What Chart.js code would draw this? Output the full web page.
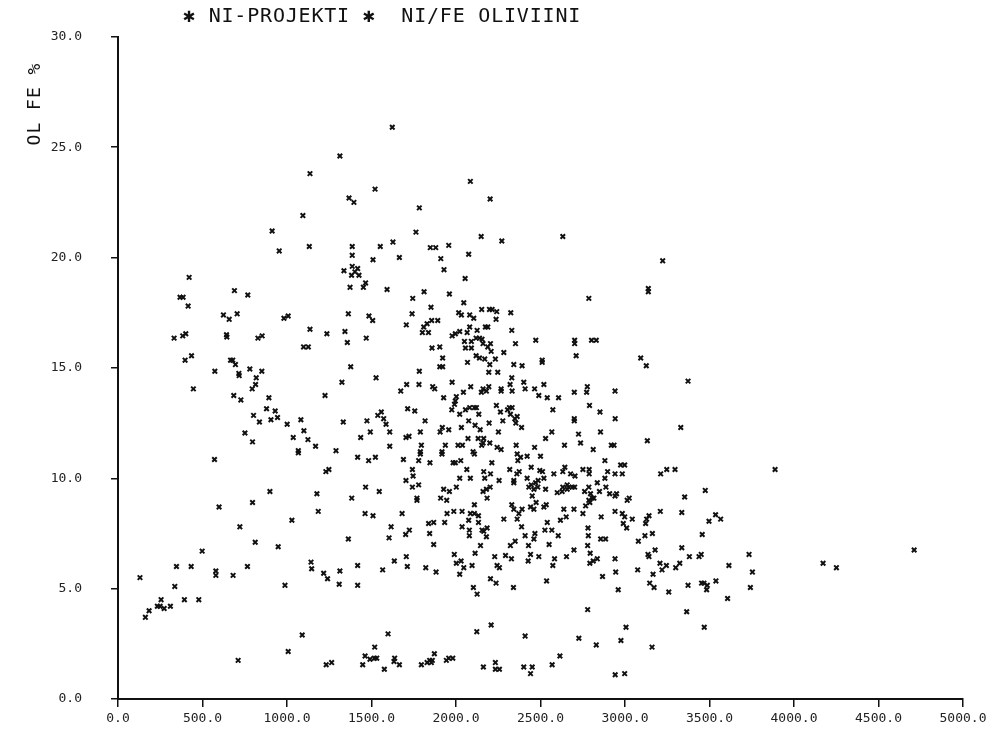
<!DOCTYPE html>
<html>
<head>
<meta charset="utf-8">
<script src="https://cdn.jsdelivr.net/npm/chart.js@4.4.1/dist/chart.umd.min.js"></script>
<style>
html,body{margin:0;padding:0;background:#fff;}
#wrap{width:999px;height:736px;position:relative;}
</style>
</head>
<body>
<div id="wrap"><canvas id="c" width="999" height="736"></canvas></div>
<script>
const chartTitle = "✱ NI-PROJEKTI ✱  NI/FE OLIVIINI";
const yTitle = "OL FE %";
const xTicks = [0,500,1000,1500,2000,2500,3000,3500,4000,4500,5000];
const yTicks = [0,5,10,15,20,25,30];

// Ni (x) vs Fe % in olivine (y)
const groupTopLeft = [[1623,25.9],[1313,24.6],[1136,23.8],[1521,23.1],[1367,22.7],[1396,22.5],[1094,21.9],[912,21.2],[954,20.3],[1132,20.5],[1386,20.5],[1552,20.5],[1627,20.7],[1386,20.1],[1509,19.9],[1665,20.0],[1386,19.6],[1418,19.5],[1337,19.4],[1402,19.35],[1382,19.2],[1426,19.2],[421,19.1],[1465,18.85],[1452,18.65],[1373,18.65],[1592,18.55],[689,18.5],[768,18.3],[367,18.2],[385,18.2],[415,17.8],[624,17.4],[658,17.2],[705,17.45],[982,17.25],[1007,17.35],[1363,17.45],[1485,17.35],[1507,17.15],[1706,16.95],[332,16.35],[383,16.45],[401,16.55],[642,16.5],[644,16.4],[828,16.35],[853,16.45],[1136,16.75],[1236,16.55],[1343,16.65],[1469,16.35],[1357,16.15],[1098,15.95],[1126,15.95]];

const groupTopMid = [[2085,23.45],[2202,22.65],[1783,22.25],[1763,21.15],[2149,20.95],[2271,20.75],[2632,20.95],[1848,20.45],[1880,20.45],[1957,20.55],[2075,20.15],[1910,19.95],[1929,19.45],[2054,19.05],[3223,19.85],[3138,18.6],[3138,18.45],[2786,18.15],[1744,18.15],[1811,18.45],[1961,18.35],[1852,17.75],[2046,17.95],[1740,17.45],[1809,16.85],[1829,17.0],[1856,17.15],[1892,17.15],[2016,17.5],[2032,17.4],[2081,17.4],[2105,17.25],[2152,17.65],[2198,17.65],[2214,17.65],[2241,17.55],[2324,17.5],[2237,17.2],[2081,16.85],[2174,16.85],[2188,16.85],[2330,16.7],[1801,16.6],[1837,16.6],[1977,16.45],[1996,16.55],[2022,16.65],[2066,16.6],[2125,16.7],[2119,16.35],[2139,16.35],[2050,16.2],[2091,16.2],[2154,16.3],[2160,16.1],[2204,16.1],[2188,15.95],[1858,15.9],[1904,15.95],[2056,15.9],[2091,15.9],[2352,16.1],[2472,16.25],[2702,16.25],[2702,16.1],[2802,16.25],[2830,16.25]];

const groupMidLeft = [[397,15.35],[435,15.55],[666,15.35],[679,15.35],[695,15.15],[573,14.85],[715,14.75],[717,14.65],[780,14.95],[851,14.85],[818,14.55],[814,14.25],[794,14.05],[446,14.05],[1377,15.05],[1325,14.35],[1527,14.55],[1708,14.25],[1673,13.95],[685,13.75],[727,13.55],[893,13.65],[1225,13.75],[879,13.15],[930,13.05],[802,12.85],[837,12.55],[905,12.65],[944,12.75],[1001,12.45],[1082,12.65],[1333,12.55],[1473,12.6],[1537,12.85],[1558,13.0],[1572,12.7],[1586,12.45],[1714,13.15],[751,12.05],[796,11.65],[1037,11.85],[1100,12.15],[1124,11.75],[1169,11.45],[1290,11.25],[1067,11.15],[1067,11.25],[1436,11.85],[1493,12.1],[1608,12.1],[1608,11.45],[1704,11.85],[571,10.85],[1418,10.95],[1483,10.8],[1523,10.95],[1689,10.85],[1230,10.3],[1248,10.4],[1704,9.9],[899,9.4],[1177,9.3],[1383,9.1],[1465,9.6],[1546,9.4],[598,8.7],[796,8.9],[1185,8.5],[1462,8.4],[1509,8.3],[1681,8.4],[1029,8.1]];

const groupLowLeft = [[721,7.8],[1616,7.8],[1702,7.45],[1604,7.3],[812,7.1],[948,6.9],[1363,7.25],[498,6.7],[346,6.0],[433,6.0],[579,5.8],[579,5.6],[681,5.6],[766,6.0],[1142,6.2],[1146,5.9],[1217,5.7],[1240,5.45],[1313,5.8],[1309,5.2],[1418,6.05],[1418,5.15],[1566,5.85],[1635,6.25],[1706,6.45],[1712,6.0],[130,5.5],[336,5.1],[988,5.15],[255,4.5],[393,4.5],[478,4.5],[184,4.0],[162,3.7],[233,4.2],[249,4.2],[273,4.1],[310,4.2],[1090,2.9],[1598,2.95],[1007,2.15],[711,1.75],[1519,2.35],[1462,1.95],[1491,1.8],[1517,1.85],[1531,1.85],[1448,1.55],[1576,1.35],[1232,1.55],[1264,1.65],[1637,1.85],[1633,1.7],[1665,1.55]];

const groupCenter = [[2208,15.75],[2283,15.7],[2711,15.55],[3093,15.45],[3126,15.1],[1921,15.45],[2119,15.55],[2139,15.45],[2170,15.4],[2233,15.4],[2068,15.25],[2200,15.15],[2342,15.15],[2391,15.1],[2510,15.35],[2510,15.25],[1904,15.05],[1921,15.05],[1783,14.85],[2194,14.8],[2247,14.8],[2330,14.55],[1781,14.25],[1862,14.15],[1874,14.05],[1977,14.35],[2087,14.15],[2160,14.05],[2194,14.15],[2180,13.95],[2150,13.9],[2267,14.05],[2267,13.95],[2320,14.25],[2332,13.95],[2401,14.35],[2409,14.05],[2465,14.05],[2520,14.25],[2490,13.75],[2540,13.65],[2607,13.65],[2700,13.9],[2777,14.15],[2773,13.9],[2941,13.95],[3373,14.4],[2044,13.9],[2002,13.7],[1927,13.65],[1996,13.5],[1991,13.35],[1756,13.05],[1975,13.1],[2022,12.9],[2056,13.1],[2081,13.2],[2109,13.2],[2121,13.2],[2135,12.9],[2239,13.3],[2263,13.0],[2305,13.1],[2316,13.2],[2332,13.2],[2322,12.9],[2348,12.7],[2362,12.8],[2354,12.5],[2388,12.3],[2573,13.1],[2790,13.3],[2852,13.0],[2700,12.7],[2700,12.6],[2942,12.7],[1817,12.6],[2075,12.6],[2113,12.4],[2143,12.2],[2196,12.5],[2277,12.6],[1919,12.3],[1906,12.1],[1957,12.2],[2032,12.3],[1789,12.1],[1722,11.9],[2251,12.1],[2567,12.1],[2725,12.0],[2855,12.1],[3330,12.3],[2071,11.8],[2131,11.8],[2164,11.8],[2530,11.8],[2160,11.6],[2152,11.5],[2200,11.6],[1937,11.5],[2012,11.5],[2038,11.5],[1795,11.5],[2243,11.4],[2267,11.3],[2356,11.5],[2465,11.4],[2642,11.5],[2737,11.6],[2812,11.3],[2919,11.5],[2935,11.5],[3132,11.7],[1789,11.1],[1789,11.2],[1917,11.1],[1917,11.2],[2101,11.2],[2109,11.1],[2362,11.1],[2382,10.95],[2421,11.0],[2500,11.0],[2366,10.8],[1779,10.8],[1846,10.7],[1983,10.7],[1996,10.7],[2028,10.8],[2212,10.7],[1742,10.4],[1746,10.1],[1742,9.6],[1779,9.7],[2064,10.4],[2022,10.0],[2085,10.0],[2164,10.3],[2204,10.2],[2170,10.0],[2255,9.9],[2002,9.6],[1927,9.5],[1961,9.4],[2160,9.4],[2180,9.5],[2202,9.6],[2184,9.1],[1769,9.1],[1769,9.0],[1909,9.1],[1945,9.0],[2318,10.4],[2360,10.2],[2374,10.3],[2445,10.5],[2342,9.9],[2342,9.8],[2421,10.0],[2445,9.7],[2471,9.8],[2486,9.9],[2496,10.35],[2520,10.0],[2512,10.3],[2431,9.6],[2461,9.5],[2484,9.6],[2530,9.5],[2451,9.2],[2474,8.9],[2441,8.7],[2461,8.6],[2520,8.7],[2534,8.8],[2579,10.2],[2632,10.3],[2644,10.5],[2678,10.2],[2704,10.1],[2751,10.4],[2788,10.4],[2788,10.2],[2632,9.6],[2658,9.7],[2668,9.6],[2658,9.5],[2688,9.6],[2702,9.6],[2599,9.35],[2628,9.4],[2761,9.4],[2786,9.6],[2796,9.3],[2836,9.8],[2881,10.0],[2887,9.6],[2849,9.4],[2881,10.8],[2897,10.3],[2941,10.2],[2984,10.2],[2974,10.6],[2998,10.6],[2909,9.3],[2941,9.2],[2950,9.3],[3013,9.0],[3025,9.1],[2786,9.0],[2806,9.1],[2792,8.9],[2767,8.75],[2816,9.1],[3211,10.2],[3247,10.4],[3296,10.4],[3353,9.15],[1947,8.4],[1987,8.5],[2036,8.5],[2085,8.4],[2109,8.4],[2133,8.3],[2109,8.8],[2330,8.8],[2342,8.6],[2391,8.6],[2372,8.4],[2283,8.15],[2362,8.15],[2638,8.6],[2698,8.6],[2751,8.4],[2859,8.25],[2941,8.5],[2984,8.4],[2998,8.25],[3043,8.15],[3142,8.3],[3128,8.15],[3209,8.5],[3336,8.45],[1838,7.95],[1868,8.0],[1933,8.0],[2075,8.1],[2133,8.0],[2540,8.0],[2618,8.1],[2652,8.25],[2990,7.95],[3122,7.95]];

const groupLowMid = [[3010,7.75],[1724,7.65],[1844,7.5],[1868,7.0],[2036,7.8],[2079,7.65],[2079,7.4],[2154,7.65],[2164,7.6],[2184,7.75],[2180,7.35],[2145,6.95],[2113,6.6],[2388,7.8],[2409,7.4],[2467,7.5],[2461,7.25],[2526,7.65],[2567,7.65],[2605,7.4],[2551,7.0],[2429,6.95],[2322,6.95],[2350,7.15],[2698,6.75],[2781,7.75],[2783,7.4],[2856,7.25],[2885,7.25],[2779,6.95],[2794,6.6],[2836,6.35],[2812,6.25],[2792,6.15],[2941,6.35],[3079,7.15],[3118,7.4],[3162,7.5],[3178,6.75],[3136,6.55],[3142,6.45],[3336,6.85],[3381,6.45],[3207,6.15],[3245,6.05],[3219,5.85],[3324,6.15],[3300,5.95],[1821,5.95],[1882,5.75],[1990,6.55],[2002,6.15],[2030,6.25],[2046,5.95],[2022,5.65],[2095,6.05],[2204,5.45],[2237,5.25],[2229,6.45],[2243,6.05],[2257,5.95],[2293,6.5],[2328,6.35],[2340,5.05],[2427,6.25],[2441,6.55],[2490,6.45],[2583,6.35],[2573,6.05],[2654,6.45],[2536,5.35],[2103,5.05],[2125,4.75],[2867,5.55],[2945,5.75],[2960,4.95],[3075,5.85],[3166,5.65],[3146,5.25],[3172,5.05],[3259,4.85],[3373,5.15],[3365,3.95],[2779,4.05],[2123,3.05],[2208,3.35],[2409,2.85],[2727,2.75],[2830,2.45],[2976,2.65],[3006,3.25],[3160,2.35],[1795,1.55],[1829,1.65],[1844,1.75],[1860,1.75],[1854,1.65],[1872,2.05],[1943,1.75],[1957,1.85],[1981,1.85],[2162,1.45],[2233,1.65],[2233,1.35],[2257,1.35],[2401,1.45],[2451,1.45],[2441,1.15],[2569,1.55],[2615,1.95],[2942,1.1],[2998,1.15]];

const groupRight = [[3888,10.4],[3475,9.45],[3536,8.35],[3566,8.15],[3497,8.05],[3457,7.45],[3438,6.45],[3451,6.55],[3734,6.55],[3615,6.05],[3754,5.75],[4172,6.15],[4251,5.95],[4711,6.75],[3453,5.25],[3467,5.25],[3487,5.15],[3483,4.95],[3538,5.35],[3742,5.05],[3607,4.55],[3469,3.25]];

const allGroups = [groupTopLeft, groupTopMid, groupMidLeft, groupLowLeft, groupCenter, groupLowMid, groupRight];
const points = [];
allGroups.forEach(g => g.forEach(p => points.push({x: p[0], y: p[1]})));

const MONO = '"DejaVu Sans Mono", "Liberation Mono", monospace';

const textPlugin = {
  id: 'textPlugin',
  afterDraw(chart) {
    const ctx = chart.ctx;
    ctx.save();
    ctx.fillStyle = '#111';
    ctx.font = '20px ' + MONO;
    ctx.letterSpacing = '0.8px';
    ctx.textBaseline = 'alphabetic';
    ctx.textAlign = 'left';
    ctx.fillText(chartTitle, 183, 22);
    ctx.letterSpacing = '1px';
    ctx.translate(35, 104);
    ctx.rotate(-Math.PI / 2);
    ctx.textAlign = 'center';
    ctx.textBaseline = 'middle';
    ctx.font = '18px ' + MONO;
    ctx.fillText(yTitle, 0, 0);
    ctx.restore();
  }
};

new Chart(document.getElementById('c'), {
  type: 'scatter',
  data: {
    datasets: [{
      data: points,
      pointStyle: 'crossRot',
      radius: 3.2,
      hoverRadius: 3.2,
      borderWidth: 2,
      borderColor: '#111',
      backgroundColor: '#111'
    }]
  },
  options: {
    responsive: false,
    animation: false,
    events: [],
    layout: { padding: { top: 24, right: 36, left: 0, bottom: 0 } },
    plugins: { legend: { display: false }, tooltip: { enabled: false }, title: { display: false } },
    scales: {
      x: {
        type: 'linear',
        min: 0, max: 5000,
        afterBuildTicks: s => { s.ticks = xTicks.map(v => ({ value: v })); },
        afterFit: s => { s.height = 37; },
        ticks: {
          autoSkip: false, maxRotation: 0, padding: 4,
          color: '#222',
          font: { family: MONO, size: 13 },
          callback: v => Number(v).toFixed(1)
        },
        grid: { drawOnChartArea: false, drawTicks: true, tickLength: 8, color: '#111', lineWidth: 1.5 },
        border: { display: true, color: '#111', width: 2 }
      },
      y: {
        type: 'linear',
        min: 0, max: 30,
        afterBuildTicks: s => { s.ticks = yTicks.map(v => ({ value: v })); },
        afterFit: s => { s.width = 118; },
        ticks: {
          autoSkip: false, padding: 29,
          color: '#222',
          font: { family: MONO, size: 13 },
          callback: v => Number(v).toFixed(1)
        },
        grid: { drawOnChartArea: false, drawTicks: true, tickLength: 7, color: '#111', lineWidth: 1.5 },
        border: { display: true, color: '#111', width: 2 }
      }
    }
  },
  plugins: [textPlugin]
});
</script>
</body>
</html>
